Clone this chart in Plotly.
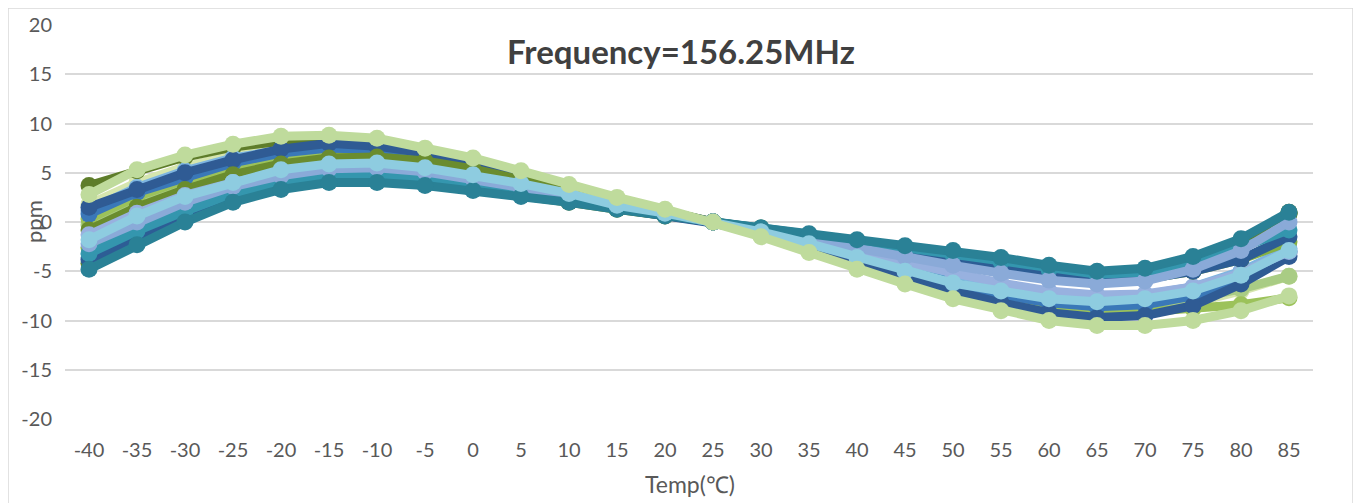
import plotly.graph_objects as go

temps = ["-40", "-35", "-30", "-25", "-20", "-15", "-10", "-5", "0", "5", "10", "15", "20",
         "25", "30", "35", "40", "45", "50", "55", "60", "65", "70", "75", "80", "85"]
y_ticks = [-20, -15, -10, -5, 0, 5, 10, 15, 20]
y_ticktext = ["-20", "-15", "-10", "-5", "0", "5", "10", "15", "20"]

s_olive_top = [3.7, 5.2, 6.6, 7.6, 8.2, 8.4, 8.1, 7.2, 6.2, 5.0, 3.6, 2.3, 1.1, 0, -1.0, -1.9, -2.8, -3.6, -4.3, -5.0, -5.6, -6.0, -5.7, -4.3, -2.2, 1.0]
s_darkblue1 = [1.5, 3.3, 5.0, 6.3, 7.4, 8.0, 7.7, 7.0, 5.8, 4.5, 3.3, 2.1, 1.1, 0, -1.3, -2.6, -4.0, -5.5, -7.0, -8.2, -9.2, -9.7, -9.5, -8.5, -6.3, -3.5]
s_medblue = [0.8, 3.0, 4.5, 6.0, 7.0, 7.5, 7.4, 6.6, 5.6, 4.3, 3.1, 2.0, 1.0, 0, -1.2, -2.4, -3.7, -5.0, -6.3, -7.4, -8.2, -8.6, -8.4, -7.5, -5.8, -3.0]
s_lightblue = [1.2, 3.5, 5.2, 6.5, 7.3, 7.7, 7.5, 6.8, 5.8, 4.6, 3.3, 2.1, 1.0, 0, -1.1, -2.2, -3.4, -4.5, -5.6, -6.5, -7.2, -7.6, -7.4, -6.6, -5.0, -2.7]
s_paleyellow = [1.8, 4.0, 5.6, 6.8, 7.6, 7.9, 7.7, 6.9, 5.9, 4.7, 3.4, 2.2, 1.1, 0, -1.4, -2.8, -4.3, -5.7, -7.0, -8.0, -8.7, -9.0, -8.9, -8.2, -7.0, -5.5]
s_lightgreen2 = [-0.3, 2.0, 3.7, 5.0, 6.0, 6.5, 6.4, 5.8, 5.0, 3.9, 2.8, 1.8, 0.9, 0, -1.1, -2.2, -3.4, -4.6, -5.8, -6.9, -7.8, -8.3, -8.3, -7.8, -6.8, -5.5]
s_olive2 = [-0.8, 1.5, 3.3, 4.8, 5.9, 6.5, 6.6, 6.2, 5.4, 4.3, 3.1, 1.9, 0.9, 0, -0.7, -1.4, -2.0, -2.7, -3.4, -4.2, -4.9, -5.4, -5.2, -4.0, -2.0, 0.8]
s_yellowgreen2 = [0.3, 2.6, 4.3, 5.6, 6.6, 7.1, 7.0, 6.4, 5.5, 4.3, 3.1, 2.0, 1.0, 0, -1.3, -2.6, -4.0, -5.3, -6.6, -7.7, -8.6, -9.0, -9.1, -8.8, -8.4, -7.7]
s_lavender1 = [-1.3, 0.9, 2.7, 4.0, 5.0, 5.6, 5.6, 5.1, 4.4, 3.5, 2.6, 1.7, 0.8, 0, -0.9, -1.9, -3.0, -4.1, -5.2, -6.2, -7.0, -7.4, -7.3, -6.6, -5.2, -3.0]
s_lavender2 = [-2.2, 0.0, 2.0, 3.6, 4.7, 5.4, 5.5, 5.1, 4.4, 3.5, 2.6, 1.7, 0.8, 0, -0.8, -1.7, -2.6, -3.5, -4.4, -5.2, -5.9, -6.3, -6.0, -4.8, -2.9, 0.0]
s_yellowgreen = [-2.6, -0.3, 1.8, 3.3, 4.5, 5.2, 5.3, 4.9, 4.3, 3.4, 2.5, 1.6, 0.8, 0, -0.8, -1.6, -2.4, -3.2, -4.0, -4.8, -5.6, -6.0, -5.8, -5.0, -3.8, -2.0]
s_teal = [-3.2, -0.9, 1.1, 2.9, 4.0, 4.7, 4.8, 4.4, 3.8, 3.1, 2.3, 1.5, 0.7, 0, -0.6, -1.3, -2.0, -2.7, -3.3, -4.0, -4.8, -5.3, -5.1, -4.2, -2.6, -0.8]
s_darkblue2 = [-3.8, -1.6, 0.6, 2.4, 3.6, 4.4, 4.5, 4.2, 3.6, 2.9, 2.1, 1.4, 0.7, 0, -0.7, -1.5, -2.3, -3.1, -3.9, -4.7, -5.4, -5.9, -5.8, -5.0, -3.8, -1.5]
s_olive3 = [-4.2, -1.9, 0.4, 2.2, 3.5, 4.2, 4.3, 4.0, 3.4, 2.8, 2.0, 1.3, 0.6, 0, -0.6, -1.3, -1.9, -2.6, -3.3, -4.0, -4.8, -5.3, -5.0, -3.8, -1.9, 0.9]
s_darkteal = [-4.8, -2.3, 0.0, 2.0, 3.3, 4.0, 4.0, 3.7, 3.2, 2.6, 2.0, 1.3, 0.6, 0, -0.6, -1.2, -1.8, -2.4, -2.9, -3.6, -4.4, -5.0, -4.7, -3.5, -1.7, 1.0]
s_lightcyan = [-1.8, 0.6, 2.6, 4.0, 5.3, 5.9, 6.0, 5.5, 4.8, 3.9, 2.9, 1.7, 0.9, 0, -1.0, -2.2, -3.6, -5.0, -6.2, -7.0, -7.8, -8.1, -7.8, -7.0, -5.4, -2.9]
s_lightgreen = [2.8, 5.3, 6.8, 7.9, 8.7, 8.8, 8.5, 7.5, 6.5, 5.2, 3.8, 2.5, 1.3, 0, -1.5, -3.1, -4.8, -6.3, -7.8, -9.0, -10.0, -10.5, -10.5, -10.0, -9.0, -7.5]

series = [
    (s_paleyellow, "#D6E6AE"),
    (s_lightgreen2, "#A9CC84"),
    (s_yellowgreen2, "#9CC25A"),
    (s_olive_top, "#5E7D2A"),
    (s_lightblue, "#7DB5E0"),
    (s_medblue, "#3A78B8"),
    (s_darkblue1, "#2F5B94"),
    (s_olive2, "#6A8C2E"),
    (s_lavender1, "#98B1DF"),
    (s_yellowgreen, "#86B043"),
    (s_olive3, "#5F8229"),
    (s_darkblue2, "#2D5D95"),
    (s_teal, "#3496AE"),
    (s_lavender2, "#8AAAD8"),
    (s_darkteal, "#2A8196"),
    (s_lightcyan, "#8ECCE0"),
    (s_lightgreen, "#BFDB9C"),
]

fig = go.Figure()
for vals, col in series:
    fig.add_trace(go.Scatter(
        x=temps, y=vals, mode="lines+markers",
        line=dict(color=col, width=9),
        marker=dict(color=col, size=17),
        showlegend=False, hoverinfo="skip",
    ))

# page offset of the figure inside the browser window
DX, DY = 8, 7
W, H = 1361, 503
L, R, T, B = 65 - DX, 1313 - DX, 24 - DY, 418 - DY

def px(x):
    return (x - DX - L) / (R - L)

def py(y):
    return (B - (y - DY)) / (B - T)

fig.update_layout(
    width=W, height=H,
    margin=dict(l=L, r=W - R, t=T, b=H - B, autoexpand=False),
    paper_bgcolor="white", plot_bgcolor="white",
    font=dict(family="Lato, Open Sans, sans-serif", color="#595959"),
    xaxis=dict(
        type="category", range=[-0.5, len(temps) - 0.5], automargin=False,
        showgrid=False, showline=False, zeroline=False,
        tickfont=dict(size=20, color="#595959"),
        ticklabelstandoff=17,
    ),
    yaxis=dict(
        range=[-20, 20], tickvals=y_ticks, ticktext=y_ticktext, automargin=False,
        showgrid=True, gridcolor="#D9D9D9", gridwidth=1.5,
        zeroline=False, showline=False,
        tickfont=dict(size=20, color="#595959"),
        ticklabelstandoff=12,
    ),
    annotations=[
        dict(text="<b>Frequency=156.25MHz</b>", xref="paper", yref="paper",
             x=px(681), y=py(50), xanchor="center", yanchor="middle", showarrow=False,
             font=dict(size=33, color="#404040", family="Lato, Open Sans, sans-serif")),
        dict(text="ppm", xref="paper", yref="paper", x=px(33), y=py(221),
             xanchor="center", yanchor="middle", showarrow=False, textangle=-90,
             font=dict(size=22, color="#595959")),
        dict(text="Temp(℃)", xref="paper", yref="paper", x=px(690), y=py(483),
             xanchor="center", yanchor="middle", showarrow=False,
             font=dict(size=23, color="#595959")),
    ],
    shapes=[
        dict(type="rect", xref="paper", yref="paper",
             x0=px(8), x1=px(1353), y0=py(530), y1=py(7),
             line=dict(color="#D9D9D9", width=1.5), fillcolor="rgba(0,0,0,0)", layer="below"),
    ],
)

fig.write_html("out.html")
